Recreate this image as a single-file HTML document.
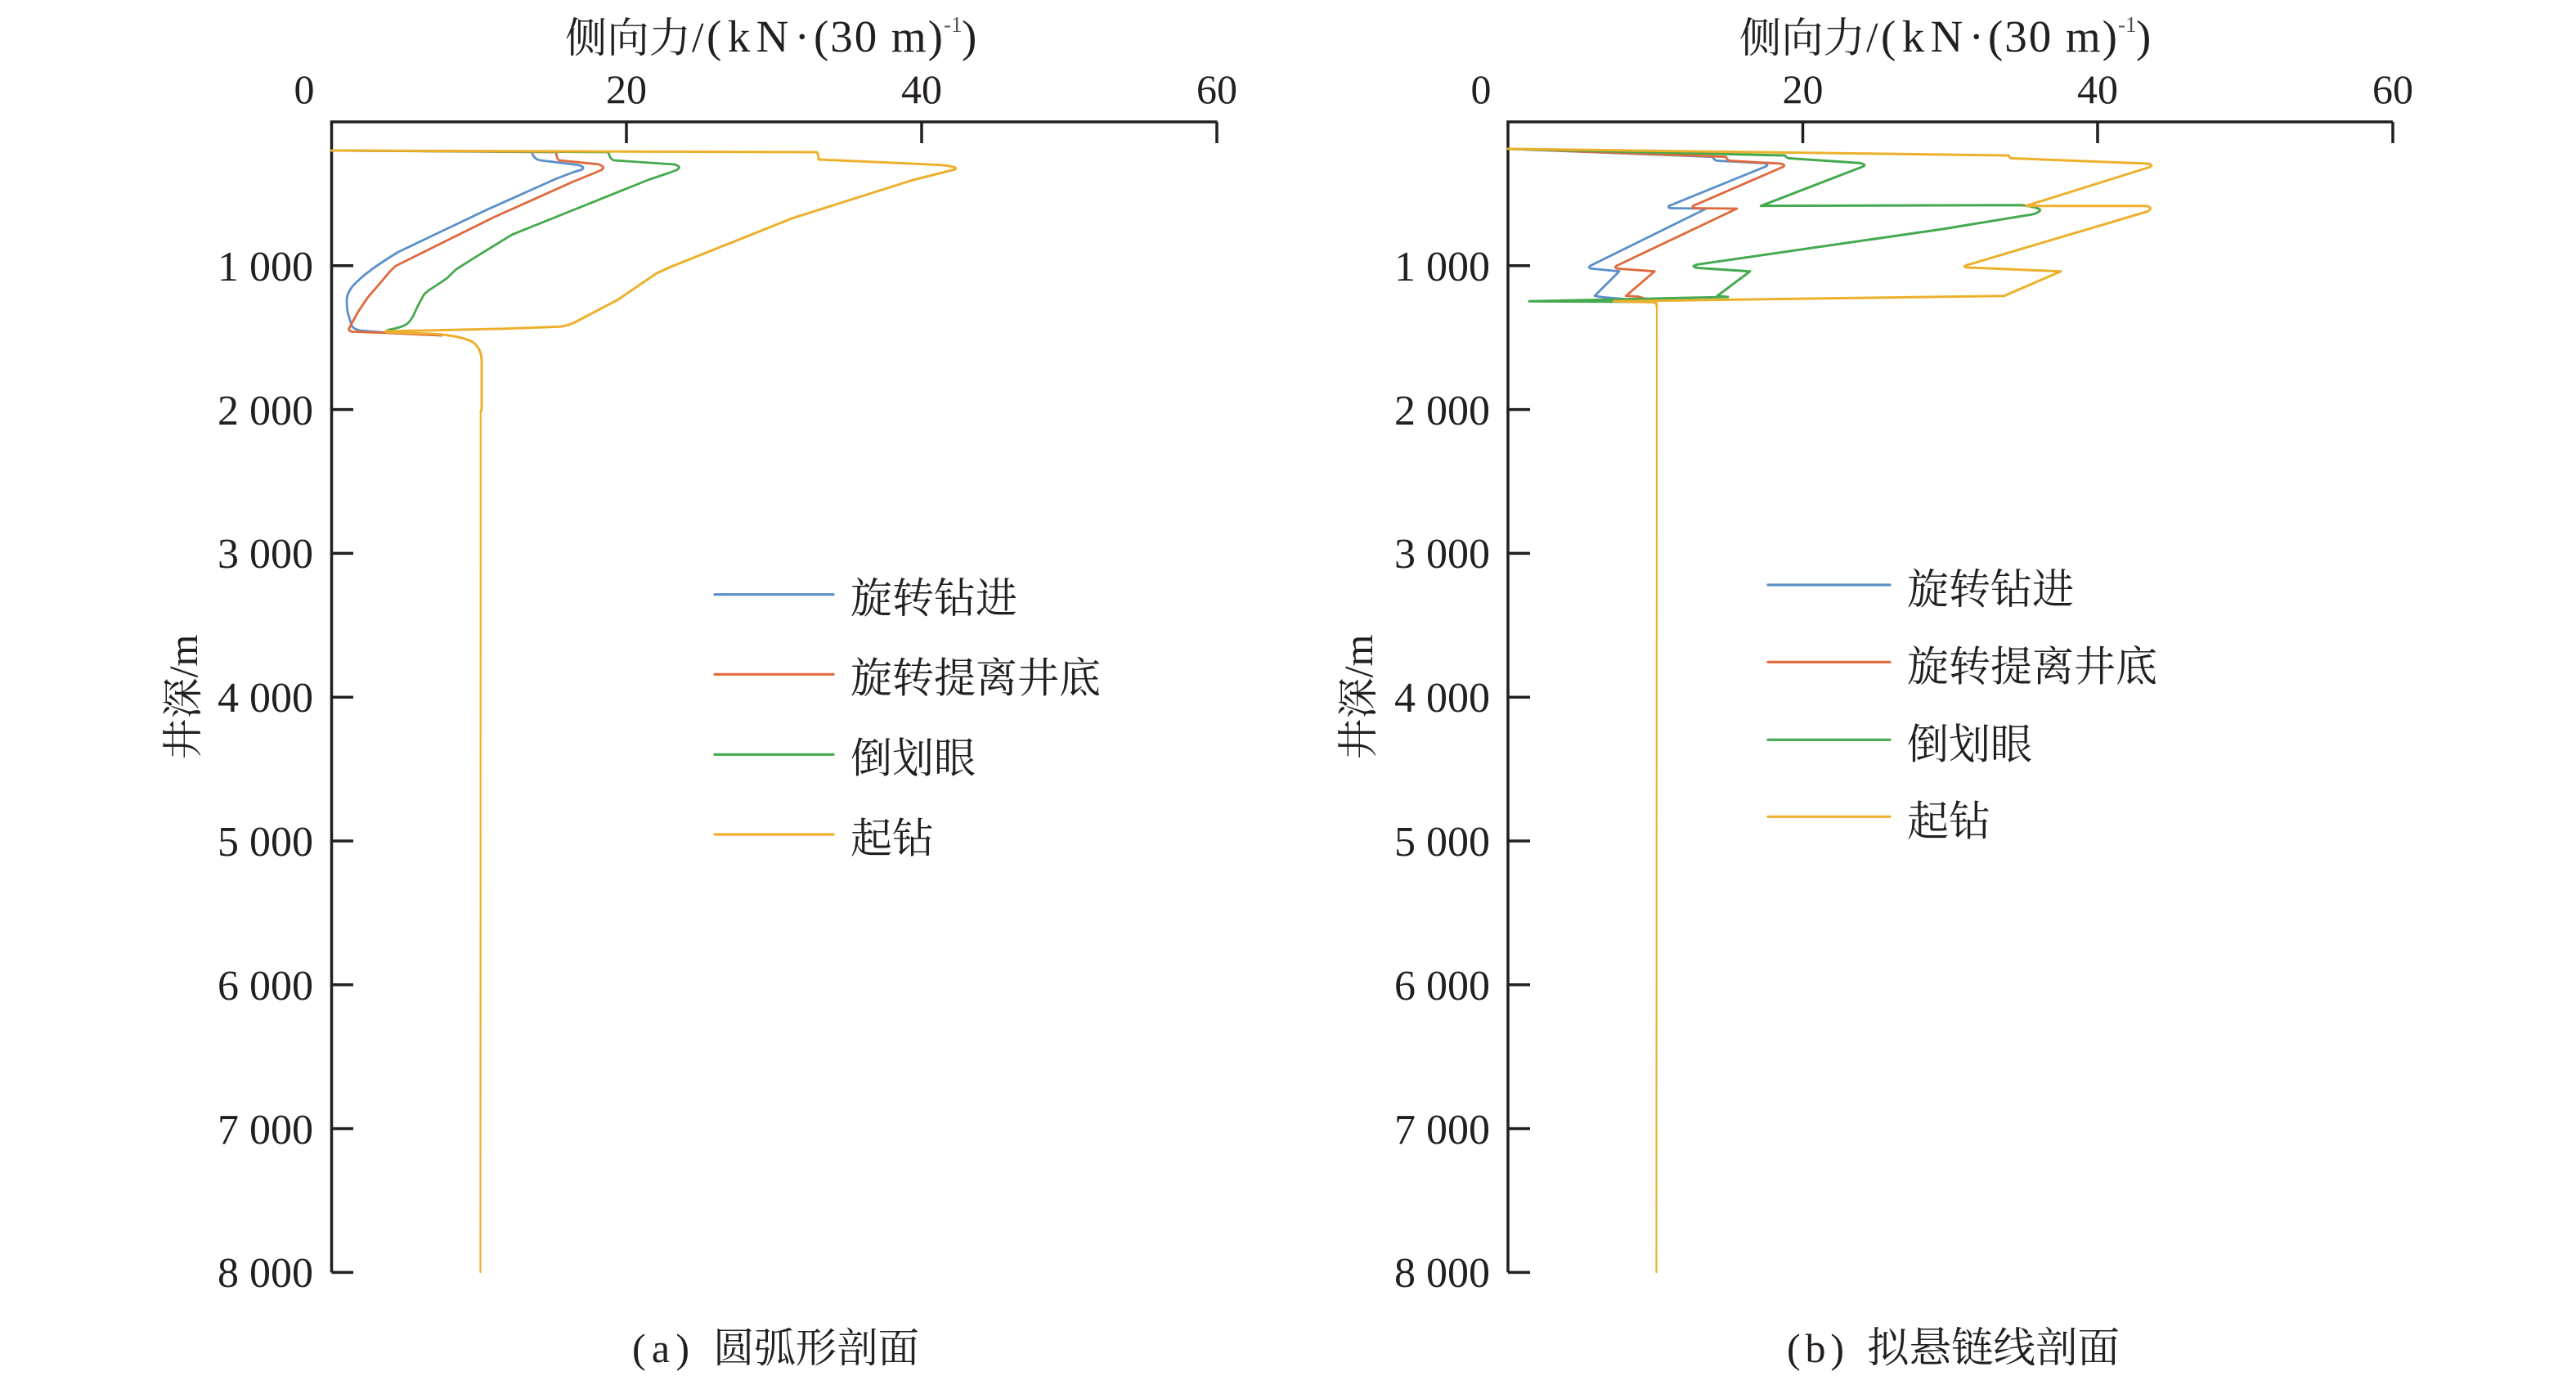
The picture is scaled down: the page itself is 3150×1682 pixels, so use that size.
<!DOCTYPE html>
<html>
<head>
<meta charset="utf-8">
<style>
html,body{margin:0;padding:0;background:#ffffff;}
svg{display:block;}
.t{font-family:"Liberation Serif","Noto Serif CJK SC",serif;fill:#231f20;}
.c{font-family:"Noto Serif CJK SC","Liberation Serif",serif;fill:#231f20;}
</style>
</head>
<body>
<svg width="3150" height="1682" viewBox="0 0 3150 1682" xmlns="http://www.w3.org/2000/svg">
<rect width="3150" height="1682" fill="#ffffff"/>

<!-- ================= LEFT PANEL ================= -->
<text class="c" x="691" y="64" font-size="51" textLength="154" lengthAdjust="spacingAndGlyphs">侧向力</text>
<text class="t" x="846" y="63" font-size="52">/</text>
<text class="t" x="864" y="63" font-size="55" textLength="126" lengthAdjust="spacing">(kN·</text>
<text class="t" x="995" y="63" font-size="55" textLength="158" lengthAdjust="spacing">(30 m)</text>
<text class="t" x="1154" y="39" font-size="27" style="fill:#555">-1</text>
<text class="t" x="1176" y="63" font-size="55">)</text>

<g class="t" font-size="50" text-anchor="middle">
<text x="372" y="126">0</text>
<text x="766" y="126">20</text>
<text x="1127" y="126">40</text>
<text x="1488" y="126">60</text>
</g>

<g class="t" font-size="52" text-anchor="end">
<text x="383" y="343">1 000</text>
<text x="383" y="519">2 000</text>
<text x="383" y="694">3 000</text>
<text x="383" y="870">4 000</text>
<text x="383" y="1046">5 000</text>
<text x="383" y="1222">6 000</text>
<text x="383" y="1398">7 000</text>
<text x="383" y="1573">8 000</text>
</g>

<text class="t" transform="translate(241,852) rotate(-90)" font-size="50" text-anchor="middle">井深/m</text>

<g stroke="#231f20" stroke-width="3.5" fill="none">
<path d="M405.5 1555.4 L405.5 149 L1488.5 149"/>
<path d="M766 149 V175 M1127 149 V175 M1488 149 V175"/>
<path d="M405.5 324.8 H432 M405.5 500.6 H432 M405.5 676.4 H432 M405.5 852.2 H432 M405.5 1028 H432 M405.5 1203.8 H432 M405.5 1379.6 H432 M405.5 1555.4 H432"/>
</g>

<g fill="none" stroke-linejoin="round" stroke-linecap="round">
<path stroke="#5b8fc9" stroke-width="2.8" d="M405.5 184 L650 185.5 Q653 195 661 196 L706 201.5 Q717 204 711 207.5 L701 210.5 L680 218.5 L594 257 L487 308 Q466 321 455 329 Q440 340 431 350 Q424 359 424 367 Q424 380 426.7 387 L430 398 Q432 402 440 404 L473 406.7 L540 410"/>
<path stroke="#e0693c" stroke-width="2.8" d="M405.5 184 L680 186 Q681 195 684 196 L731 200.7 Q742 204 735 208 L728 211 L701 222 L605 265 L484 325 Q476 332 470 340 Q458 354 450 363.3 Q441 376 436.7 383.3 L426.7 401.7 Q426 405 432 405.5 L473 407 L540 410"/>
<path stroke="#45a94f" stroke-width="2.8" d="M405.5 184 L744 186 Q746 195 751 196 L824.6 201 Q835 204 827 208 L819 211 L792.4 220 L626.4 286.7 Q575 318 556.8 330 L546.7 340 Q535 348 526.7 353.3 Q518 359 516.7 363.3 Q510 375 506.7 383.3 Q502 393 496.7 396.7 Q488 401 476.7 402.7 L471.7 405"/>
<path stroke="#edb02d" stroke-width="3" d="M405.5 184 L998.6 186 Q1001 188 1001 195 L1151 201.7 Q1173 204 1168 207 L1116.5 220 L969 266.7 L819 326.7 L803 334 L755 366.7 L701 395 Q690 399.5 680 399.5 L620 401.7 L471.7 405 L473 406 L533 408.3 Q565 411 578 418 Q588 425 589 440 L589 500 L587.8 503"/>
<path stroke="#edb02d" stroke-width="2.2" d="M587.8 503 L587.5 1555"/>
</g>

<g stroke-width="3.2" stroke-linecap="round">
<line x1="874" y1="726.7" x2="1019" y2="726.7" stroke="#5b8fc9"/>
<line x1="874" y1="824.3" x2="1019" y2="824.3" stroke="#e0693c"/>
<line x1="874" y1="922.3" x2="1019" y2="922.3" stroke="#45a94f"/>
<line x1="874" y1="1020" x2="1019" y2="1020" stroke="#edb02d"/>
</g>
<g class="c" font-size="51">
<text x="1040" y="749">旋转钻进</text>
<text x="1040" y="846.6">旋转提离井底</text>
<text x="1040" y="944.6">倒划眼</text>
<text x="1040" y="1042.3">起钻</text>
</g>

<text class="t" x="773" y="1665" font-size="50" textLength="70" lengthAdjust="spacing">(a)</text>
<text class="c" x="872" y="1665" font-size="50" textLength="252" lengthAdjust="spacingAndGlyphs">圆弧形剖面</text>

<!-- ================= RIGHT PANEL ================= -->
<text class="c" x="2127" y="64" font-size="51" textLength="154" lengthAdjust="spacingAndGlyphs">侧向力</text>
<text class="t" x="2282" y="63" font-size="52">/</text>
<text class="t" x="2300" y="63" font-size="55" textLength="126" lengthAdjust="spacing">(kN·</text>
<text class="t" x="2431" y="63" font-size="55" textLength="158" lengthAdjust="spacing">(30 m)</text>
<text class="t" x="2590" y="39" font-size="27" style="fill:#555">-1</text>
<text class="t" x="2612" y="63" font-size="55">)</text>

<g class="t" font-size="50" text-anchor="middle">
<text x="1811" y="126">0</text>
<text x="2204.5" y="126">20</text>
<text x="2565" y="126">40</text>
<text x="2926" y="126">60</text>
</g>

<g class="t" font-size="52" text-anchor="end">
<text x="1822" y="343">1 000</text>
<text x="1822" y="519">2 000</text>
<text x="1822" y="694">3 000</text>
<text x="1822" y="870">4 000</text>
<text x="1822" y="1046">5 000</text>
<text x="1822" y="1222">6 000</text>
<text x="1822" y="1398">7 000</text>
<text x="1822" y="1573">8 000</text>
</g>

<text class="t" transform="translate(1678,852) rotate(-90)" font-size="50" text-anchor="middle">井深/m</text>

<g stroke="#231f20" stroke-width="3.5" fill="none">
<path d="M1844 1555.4 L1844 149 L2926 149"/>
<path d="M2204.5 149 V175 M2565 149 V175 M2926 149 V175"/>
<path d="M1844 324.8 H1871 M1844 500.6 H1871 M1844 676.4 H1871 M1844 852.2 H1871 M1844 1028 H1871 M1844 1203.8 H1871 M1844 1379.6 H1871 M1844 1555.4 H1871"/>
</g>

<g fill="none" stroke-linejoin="round" stroke-linecap="round">
<path stroke="#5b8fc9" stroke-width="2.8" d="M1844 182 L2094.4 191.7 Q2096 196 2100 196.5 L2156 199.3 Q2165 201 2158 204 L2040.9 251.7 Q2039 254.5 2045 254.5 L2086.4 255 L1944.4 325 Q1941 328 1948 328.5 L1980 331.7 L1950 361.7 L1960 363.3 L2025 369"/>
<path stroke="#e0693c" stroke-width="2.8" d="M1844 182 L2110.5 191.7 Q2112 196 2116 196.5 L2177.4 200 Q2186 202 2178 205 L2070.3 251.7 Q2068 254.5 2074 254.5 L2124 255 L1976.6 325 Q1973 328 1980 328.5 L2023.3 331.7 L1988.3 361.7 L2003 362.5 L2025 369"/>
<path stroke="#45a94f" stroke-width="3" d="M1844 182 L2182.8 190 Q2184 193 2188 193.5 L2273.8 199.3 Q2284 201 2277 204 L2153.3 251.7 L2472 250.7 Q2498 254 2494 258 Q2490 262 2477.4 263.3 L2375.6 280 L2075.7 323.3 Q2066 326 2076 327.5 L2140 331.7 L2100 361.7 L2113 363 L1870 368.3 L2025 369"/>
<path stroke="#edb02d" stroke-width="3" d="M1844 182 L2456 190 Q2457 193 2460 193.5 L2627 200 Q2634 202 2628 204.5 L2477.4 251.7 L2624.7 251.7 Q2634 254 2626 258.5 L2407.8 323.3 Q2398 326 2406 327 L2520 331.7 L2450.6 361.7 L1973.3 368.3 L2022 369.5 Q2026 370 2026 374"/>
<path stroke="#edb02d" stroke-width="2.2" d="M2026 374 L2025.5 1555"/>
</g>

<g stroke-width="3.2" stroke-linecap="round">
<line x1="2162" y1="715" x2="2311" y2="715" stroke="#5b8fc9"/>
<line x1="2162" y1="809.3" x2="2311" y2="809.3" stroke="#e0693c"/>
<line x1="2162" y1="904.3" x2="2311" y2="904.3" stroke="#45a94f"/>
<line x1="2162" y1="998.3" x2="2311" y2="998.3" stroke="#edb02d"/>
</g>
<g class="c" font-size="51">
<text x="2332" y="738">旋转钻进</text>
<text x="2332" y="832.3">旋转提离井底</text>
<text x="2332" y="927.3">倒划眼</text>
<text x="2332" y="1021.3">起钻</text>
</g>

<text class="t" x="2185" y="1665" font-size="50" textLength="70" lengthAdjust="spacing">(b)</text>
<text class="c" x="2283" y="1665" font-size="51" textLength="309" lengthAdjust="spacingAndGlyphs">拟悬链线剖面</text>

</svg>
</body>
</html>
